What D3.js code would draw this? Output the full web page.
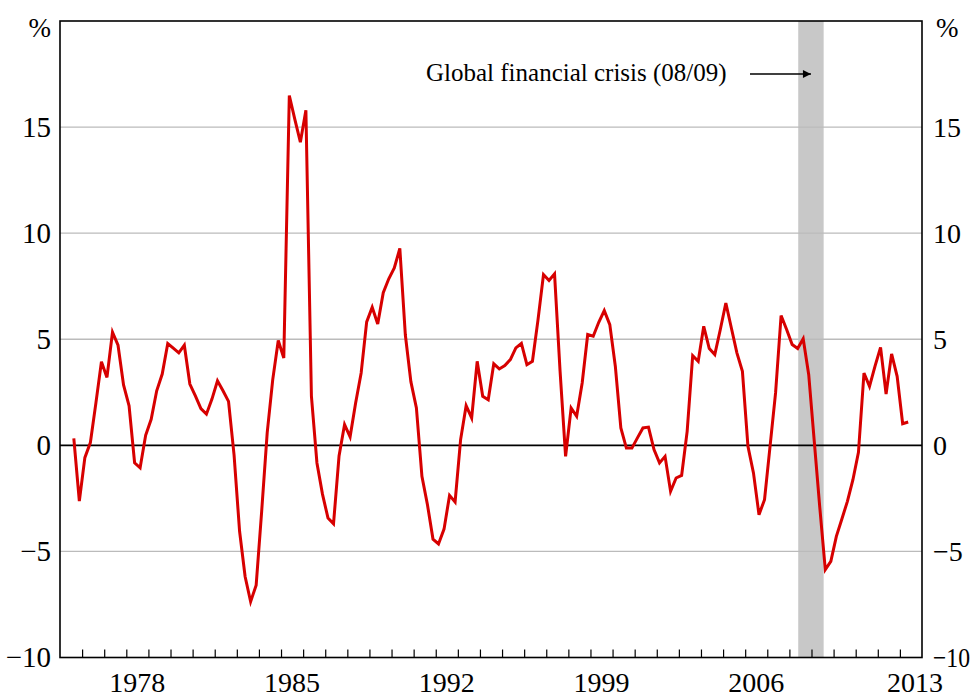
<!DOCTYPE html>
<html>
<head>
<meta charset="utf-8">
<script src="https://cdn.jsdelivr.net/npm/d3@7"></script>
<style>
  body { margin: 0; background: #fff; }
  svg text { font-family: "Liberation Serif", "Times New Roman", serif; fill: #000; }
</style>
</head>
<body>
<div id="frame"></div>
<script>
const width = 974
const height = 698
const margin = { left: 60, right: 52, top: 21, bottom: 40.5 }
const serif = '"Liberation Serif", "Times New Roman", serif'

// quarterly series, first value is the September quarter 1975
const startYear = 1975
const startQuarter = 3
const values = [
  0.33, -2.63, -0.58, 0.13, 2.0, 3.94, 3.2, 5.33, 4.72, 2.85,
  1.86, -0.82, -1.06, 0.47, 1.23, 2.57, 3.36, 4.8, 4.58, 4.36,
  4.72, 2.89, 2.33, 1.73, 1.47, 2.18, 3.04, 2.57, 2.07, -0.45,
  -4.05, -6.18, -7.37, -6.59, -3.1, 0.6, 3.1, 4.94, 4.12, 16.49,
  15.36, 14.29, 15.79, 2.32, -0.83, -2.3, -3.43, -3.7, -0.5, 0.98,
  0.4, 2.0, 3.41, 5.82, 6.51, 5.72, 7.19, 7.85, 8.36, 9.28,
  5.2, 3.0, 1.76, -1.46, -2.8, -4.42, -4.65, -3.95, -2.36, -2.67,
  0.27, 1.87, 1.29, 3.96, 2.31, 2.15, 3.84, 3.6, 3.76, 4.04,
  4.59, 4.8, 3.8, 3.96, 5.9, 8.05, 7.77, 8.08, 3.5, -0.52,
  1.76, 1.37, 2.94, 5.22, 5.14, 5.8, 6.35, 5.69, 3.73, 0.82,
  -0.13, -0.13, 0.35, 0.82, 0.86, -0.2, -0.83, -0.52, -2.17, -1.54,
  -1.42, 0.66, 4.23, 3.96, 5.61, 4.56, 4.28, 5.46, 6.71, 5.53,
  4.36, 3.49, -0.05, -1.3, -3.27, -2.56, -0.05, 2.47, 6.12, 5.46,
  4.75, 4.56, 5.02, 3.33, 0.2, -2.92, -5.86, -5.47, -4.29, -3.47,
  -2.64, -1.62, -0.33, 3.41, 2.78, 3.73, 4.62, 2.42, 4.31, 3.25,
  1.02, 1.1
]

const yearLabels = [1978, 1985, 1992, 1999, 2006, 2013]
const yTicks = [-10, -5, 0, 5, 10, 15]
const crisis = [2008.4, 2009.55]
const crisisLabel = 'Global financial crisis (08/09)'

const style = {
  line: '#d70000',
  grid: '#bbbbbb',
  shade: '#c8c8c8',
  font: 29
}

const points = values.map((v, i) => ({
  t: startYear + (startQuarter - 1) / 4 + 0.125 + i * 0.25,
  v
}))

const x = d3.scaleLinear()
  .domain([1975, 2014])
  .range([margin.left, width - margin.right])

const y = d3.scaleLinear()
  .domain([-10, 20])
  .range([height - margin.bottom, margin.top])

const svg = d3.select('#frame')
  .append('svg')
  .attr('width', width)
  .attr('height', height)

// crisis shading
svg.append('rect')
  .attr('x', x(crisis[0]))
  .attr('y', y(20))
  .attr('width', x(crisis[1]) - x(crisis[0]))
  .attr('height', y(-10) - y(20))
  .attr('fill', style.shade)

// horizontal grid
svg.append('g')
  .selectAll('line')
  .data(yTicks.filter(d => d !== 0 && d !== -10))
  .join('line')
  .attr('x1', x(1975))
  .attr('x2', x(2014))
  .attr('y1', d => y(d))
  .attr('y2', d => y(d))
  .attr('stroke', style.grid)
  .attr('stroke-width', 1.4)

// zero line
svg.append('line')
  .attr('x1', x(1975))
  .attr('x2', x(2014))
  .attr('y1', y(0))
  .attr('y2', y(0))
  .attr('stroke', '#000')
  .attr('stroke-width', 1.6)

// year ticks along the bottom
const xAxis = d3.axisTop(x)
  .tickValues(d3.range(1976, 2014))
  .tickSize(8)
  .tickFormat('')

const xg = svg.append('g')
  .attr('transform', `translate(0,${y(-10)})`)
  .call(xAxis)
xg.select('.domain').remove()
xg.selectAll('line').attr('stroke', '#000').attr('stroke-width', 1.2)

// year labels centred in the year
svg.append('g')
  .selectAll('text')
  .data(yearLabels)
  .join('text')
  .attr('x', d => x(d + 0.5) + (d === 2013 ? 4 : 0))
  .attr('y', 692)
  .attr('text-anchor', 'middle')
  .style('font-family', serif)
  .style('font-size', '28px')
  .text(d => d)

// left and right value labels
const leftAxis = d3.axisLeft(y).tickValues(yTicks).tickSize(0).tickPadding(9)
const rightAxis = d3.axisRight(y).tickValues(yTicks).tickSize(0).tickPadding(11)

;[[leftAxis, x(1975), style.font], [rightAxis, x(2014), 28]].forEach(([axis, pos, size]) => {
  const g = svg.append('g')
    .attr('transform', `translate(${pos},0)`)
    .call(axis)
  g.select('.domain').remove()
  g.selectAll('text')
    .style('font-family', serif)
    .style('font-size', size + 'px')
    .attr('fill', '#000')
})

// the right-hand -10 sits against the page edge, squeeze it to fit
svg.selectAll('g')
  .filter(function () { return this.getAttribute('transform') === `translate(${x(2014)},0)` })
  .selectAll('.tick text')
  .filter(d => d === -10)
  .attr('textLength', 37)
  .attr('lengthAdjust', 'spacingAndGlyphs')

svg.append('text')
  .attr('x', x(1975) - 9)
  .attr('y', 37)
  .attr('text-anchor', 'end')
  .style('font-family', serif)
  .style('font-size', '27px')
  .text('%')

svg.append('text')
  .attr('x', x(2014) + 14)
  .attr('y', 37)
  .style('font-family', serif)
  .style('font-size', '27px')
  .text('%')

// plot frame
svg.append('rect')
  .attr('x', x(1975))
  .attr('y', y(20))
  .attr('width', x(2014) - x(1975))
  .attr('height', y(-10) - y(20))
  .attr('fill', 'none')
  .attr('stroke', '#000')
  .attr('stroke-width', 1.6)

// series
const line = d3.line()
  .x(d => x(d.t))
  .y(d => y(d.v))

svg.append('path')
  .datum(points)
  .attr('d', line)
  .attr('fill', 'none')
  .attr('stroke', style.line)
  .attr('stroke-width', 3)
  .attr('stroke-linejoin', 'miter')

// annotation with arrow
svg.append('defs')
  .append('marker')
  .attr('id', 'arrow')
  .attr('viewBox', '0 0 10 10')
  .attr('refX', 10)
  .attr('refY', 5)
  .attr('markerWidth', 12)
  .attr('markerHeight', 8)
  .attr('markerUnits', 'userSpaceOnUse')
  .attr('orient', 'auto')
  .append('path')
  .attr('d', 'M0,0 L10,5 L0,10 Z')
  .attr('fill', '#000')

svg.append('text')
  .attr('x', 426)
  .attr('y', 81)
  .style('font-family', serif)
  .style('font-size', '25px')
  .text(crisisLabel)

svg.append('line')
  .attr('x1', 750)
  .attr('x2', x((crisis[0] + crisis[1]) / 2))
  .attr('y1', 74)
  .attr('y2', 74)
  .attr('stroke', '#000')
  .attr('stroke-width', 1.3)
  .attr('marker-end', 'url(#arrow)')
</script>
</body>
</html>
